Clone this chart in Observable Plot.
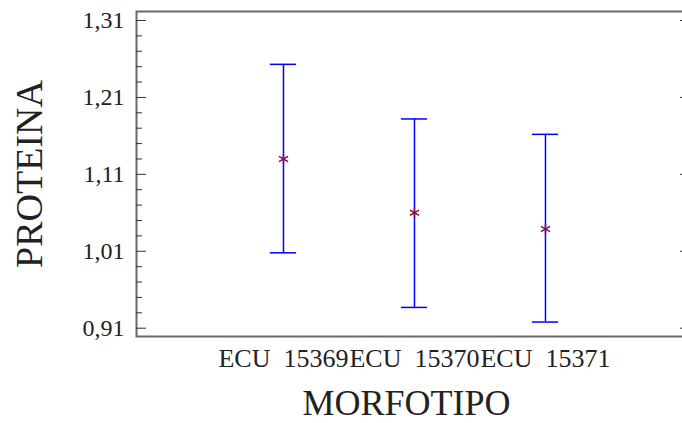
<!DOCTYPE html>
<html>
<head>
<meta charset="utf-8">
<script src="https://cdn.jsdelivr.net/npm/d3@7"></script>
<script src="https://cdn.jsdelivr.net/npm/@observablehq/plot@0.6"></script>
<style>
  html, body { margin: 0; padding: 0; background: #fff; overflow: hidden; }
  svg text { white-space: pre; font-family: "Liberation Serif", "Times New Roman", serif; }
</style>
</head>
<body>
<div id="chart"></div>
<script>
const categories = ["ECU  15369", "ECU  15370", "ECU  15371"];
const means = [1.130, 1.060, 1.039];
const lower = [1.008, 0.937, 0.918];
const upper = [1.253, 1.182, 1.162];
const majorTicks = [0.91, 1.01, 1.11, 1.21, 1.31];
const minorTicks = [0.93, 0.95, 0.97, 0.99, 1.03, 1.05, 1.07, 1.09, 1.13, 1.15, 1.17, 1.19, 1.23, 1.25, 1.27, 1.29];
const xTitle = "MORFOTIPO";
const yTitle = "PROTEINA";

const data = categories.map((c, i) => ({i, c, mean: means[i], lo: lower[i], hi: upper[i]}));
const capHalf = 0.1;
const fmt = d => d.toFixed(2).replace(".", ",");
const font = "Liberation Serif, Times New Roman, serif";

const chart = Plot.plot({
  width: 682,
  height: 423,
  marginLeft: 136,
  marginRight: -8,
  marginTop: 11,
  marginBottom: 87,
  style: {fontFamily: font, background: "#fff", color: "#222"},
  x: {type: "linear", domain: [-1.122, 3.107]},
  y: {domain: [0.8992, 1.3217]},
  marks: [
    Plot.frame({stroke: "#6a6a6a", strokeWidth: 2}),
    Plot.tickY(majorTicks, {y: d => d, insetRight: 544, stroke: "#333"}),
    Plot.tickY(minorTicks, {y: d => d, insetRight: 548, stroke: "#333"}),
    Plot.tickY(majorTicks, {y: d => d, insetLeft: 544, stroke: "#333"}),
    Plot.tickY(minorTicks, {y: d => d, insetLeft: 548, stroke: "#333"}),
    Plot.axisY({ticks: majorTicks, tickSize: 0, tickPadding: 12, tickFormat: fmt, fontSize: 24, fontFamily: font, label: null, fill: "#222"}),
    Plot.axisX({ticks: [0, 1, 2], tickSize: 0, tickPadding: 12, tickFormat: i => categories[i], fontSize: 26, fontFamily: font, label: null, fill: "#222"}),
    Plot.text([xTitle], {frameAnchor: "bottom", textAnchor: "middle", lineAnchor: "middle", dy: 67, dx: -7, fontSize: 36, fontFamily: font, fill: "#222"}),
    Plot.text([yTitle], {frameAnchor: "left", textAnchor: "middle", lineAnchor: "middle", dx: -107, rotate: -90, fontSize: 38, fontFamily: font, fill: "#222"}),
    Plot.ruleX(data, {x: "i", y1: "lo", y2: "hi", stroke: "#0000ff", strokeWidth: 1.5}),
    Plot.ruleY(data, {y: "hi", x1: d => d.i - capHalf, x2: d => d.i + capHalf, stroke: "#0000ff", strokeWidth: 1.5}),
    Plot.ruleY(data, {y: "lo", x1: d => d.i - capHalf, x2: d => d.i + capHalf, stroke: "#0000ff", strokeWidth: 1.5}),
    Plot.dot(data, {x: "i", y: "mean", symbol: "asterisk", r: 5, stroke: "#8a0a4a", strokeWidth: 1.5})
  ]
});
document.getElementById("chart").appendChild(chart);
</script>
</body>
</html>
